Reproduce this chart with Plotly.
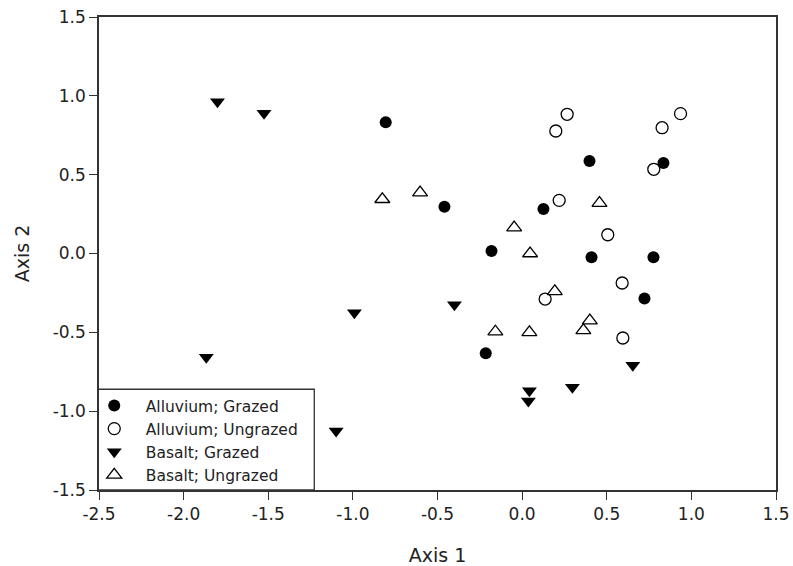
import plotly.graph_objects as go

ag_x = [-0.806, 0.398, 0.835, -0.459, 0.126, -0.181, 0.410, 0.776, 0.723, -0.215]
ag_y = [0.832, 0.587, 0.574, 0.297, 0.282, 0.016, -0.024, -0.024, -0.286, -0.633]
au_x = [0.266, 0.199, 0.936, 0.827, 0.778, 0.219, 0.506, 0.591, 0.136, 0.595]
au_y = [0.883, 0.777, 0.887, 0.798, 0.534, 0.337, 0.119, -0.187, -0.289, -0.536]
bg_x = [-1.800, -1.525, -0.400, -0.991, -1.866, -1.099, 0.043, 0.037, 0.297, 0.654]
bg_y = [0.963, 0.889, -0.325, -0.375, -0.658, -1.126, -0.870, -0.935, -0.849, -0.709]
bu_x = [-0.826, -0.603, 0.457, -0.047, 0.047, 0.193, -0.158, 0.043, 0.400, 0.362]
bu_y = [0.344, 0.386, 0.320, 0.164, 0.0, -0.240, -0.496, -0.500, -0.426, -0.487]

names = ["Alluvium; Grazed", "Alluvium; Ungrazed", "Basalt; Grazed", "Basalt; Ungrazed"]
x_ticks = [-2.5, -2.0, -1.5, -1.0, -0.5, 0.0, 0.5, 1.0, 1.5]
y_ticks = [-1.5, -1.0, -0.5, 0.0, 0.5, 1.0, 1.5]

FONT = "DejaVu Sans, Arial"

fig = go.Figure()
fig.add_trace(go.Scatter(x=ag_x, y=ag_y, mode="markers", name=names[0],
                         marker=dict(symbol="circle", size=12, color="black")))
fig.add_trace(go.Scatter(x=au_x, y=au_y, mode="markers", name=names[1],
                         marker=dict(symbol="circle", size=12, color="white",
                                     line=dict(color="black", width=1.3))))
fig.add_trace(go.Scatter(x=bg_x, y=bg_y, mode="markers", name=names[2],
                         marker=dict(symbol="triangle-down", size=13, color="black")))
fig.add_trace(go.Scatter(x=bu_x, y=bu_y, mode="markers", name=names[3],
                         marker=dict(symbol="triangle-up", size=13, color="white",
                                     line=dict(color="black", width=1.3))))

axis_common = dict(showgrid=False, zeroline=False, showline=True, linecolor="#333",
                   linewidth=1.5, mirror=True, ticks="outside", ticklen=8,
                   tickwidth=1.3, tickcolor="#333", automargin=False,
                   ticklabeloverflow="allow",
                   tickfont=dict(family=FONT, size=17, color="#222"))

fig.update_xaxes(range=[-2.5, 1.5], tickvals=x_ticks,
                 ticktext=[f"{v:.1f}" for v in x_ticks],
                 title=dict(text="Axis 1", standoff=26,
                            font=dict(family=FONT, size=19, color="#222")),
                 **axis_common)
fig.update_yaxes(range=[-1.5, 1.5], tickvals=y_ticks,
                 ticktext=[f"{v:.1f}" for v in y_ticks],
                 title=dict(text="Axis 2", standoff=18,
                            font=dict(family=FONT, size=19, color="#222")),
                 **axis_common)

fig.add_shape(type="rect", xref="paper", yref="paper", x0=-0.001, x1=0.318, y0=0, y1=0.213,
              line=dict(color="#333", width=1.3), fillcolor="white", layer="below")

fig.update_layout(
    width=793, height=566,
    margin=dict(l=99, r=17, t=17, b=76),
    paper_bgcolor="white", plot_bgcolor="white",
    showlegend=True,
    legend=dict(x=-0.024, y=-0.004, xanchor="left", yanchor="bottom",
                bgcolor="rgba(0,0,0,0)", borderwidth=0, tracegroupgap=0,
                itemwidth=53,
                font=dict(family=FONT, size=15.5, color="#222")),
)

fig.write_html("out.html", config={"displayModeBar": False},
               post_script="document.body.style.margin='0';document.body.style.overflow='hidden';")
